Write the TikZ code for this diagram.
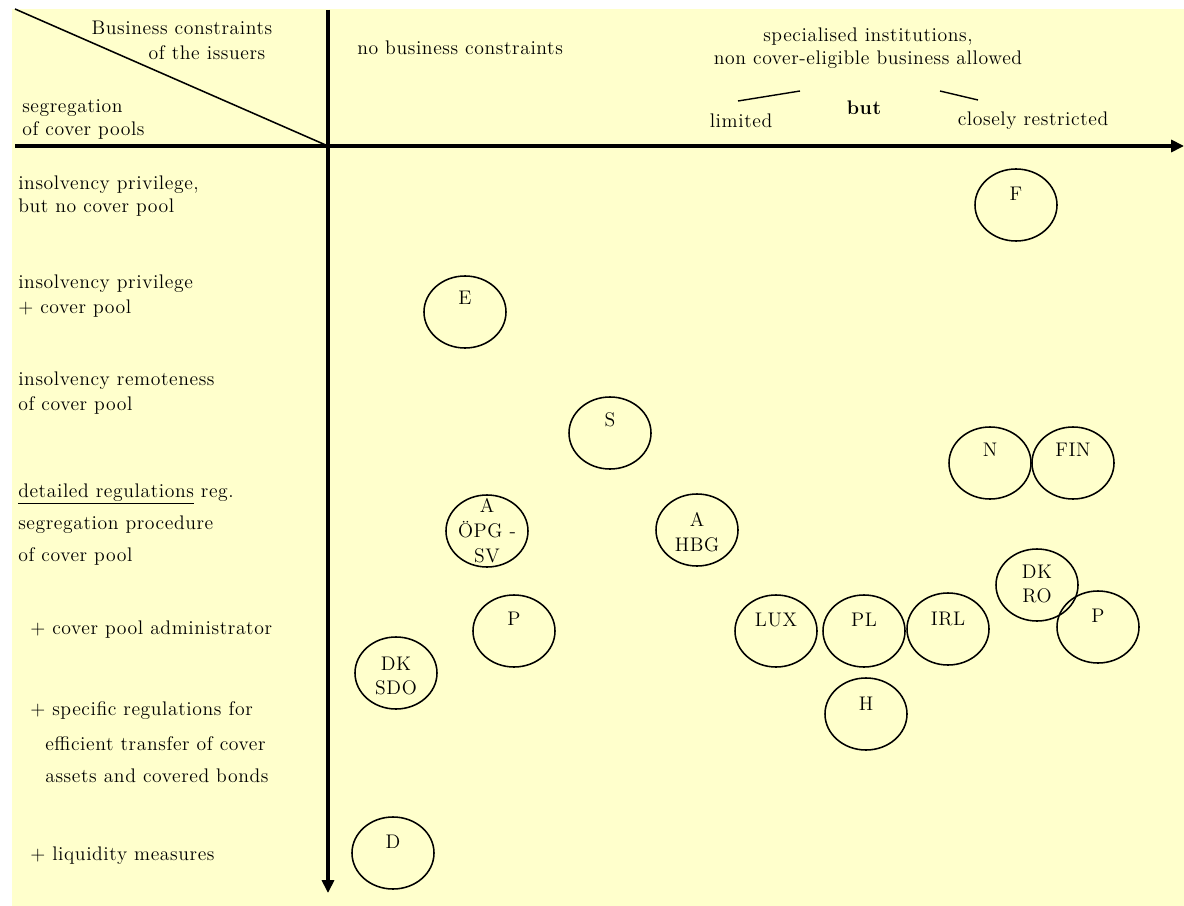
\documentclass[tikz,border=0pt]{standalone}
\usepackage{fontspec}
\setmainfont{Latin Modern Roman}[LetterSpace=3]
\usepackage{tikz}
\usetikzlibrary{shapes.geometric,arrows.meta}
\definecolor{paleyellow}{RGB}{255,255,204}
\newcommand{\lblfont}{\fontsize{14}{17.7}\selectfont}
\tikzset{
  pool/.style={draw, ellipse, line width=1.1pt, minimum width=2.05cm, minimum height=1.8cm, inner sep=0pt},
  poollbl/.style={inner sep=0pt, align=center, font=\lblfont},
  lbl/.style={inner sep=0pt, font=\lblfont},
  rowlbl/.style={lbl, anchor=west},
  axis/.style={line width=2.2pt, -{Triangle[length=0.32cm,width=0.3cm]}}
}

\begin{document}
\begin{tikzpicture}[x=0.025cm,y=-0.025cm]
    \useasboundingbox (0,0) rectangle (1184,906);
    \fill[white] (0,0) rectangle (1184,906);
    \fill[paleyellow] (12,9) rectangle (1184,906);
    % axes
    \coordinate (O) at (328,146);
    \coordinate (xs) at (15,146);
    \coordinate (xe) at (1184,146);
    \coordinate (ys) at (328,10);
    \coordinate (ye) at (328,893);
    \coordinate (corner) at (15,9);
    \draw[line width=1.1pt] (corner)--(O);
    \draw[axis] (xs)--(xe);
    \draw[axis] (ys)--(ye);
    % header
    \node[lbl] (bc1) at (182,28) {Business constraints};
    \node[lbl] (bc2) at (207,53) {of the issuers};
    \node[rowlbl] (sg1) at (22,108) {segregation};
    \node[rowlbl] (sg2) at (22,130) {of cover pools};
    \node[rowlbl] (nbc) at (357,48) {no business constraints};
    \node[lbl] (sp1) at (868,37) {specialised institutions,};
    \node[lbl] (sp2) at (868,60) {non cover-eligible business allowed};
    \node[lbl] (lim) at (741,121) {limited};
    \node[lbl,font=\lblfont\bfseries] (but) at (864,108) {but};
    \node[lbl] (clr) at (1033,121) {closely restricted};
    \coordinate (la) at (738,101);
    \coordinate (lb) at (800,91);
    \coordinate (ra) at (940,91);
    \coordinate (rb) at (978,100);
    \draw[line width=1pt] (la)--(lb);
    \draw[line width=1pt] (ra)--(rb);
    % rows
    \node[rowlbl] (r1a) at (18,185) {insolvency privilege,};
    \node[rowlbl] (r1b) at (18,208) {but no cover pool};
    \node[rowlbl] (r2a) at (18,284) {insolvency privilege};
    \node[rowlbl] (r2b) at (18,309) {+ cover pool};
    \node[rowlbl] (r3a) at (18,381) {insolvency remoteness};
    \node[rowlbl] (r3b) at (18,405) {of cover pool};
    \node[rowlbl] (r4a) at (18,494) {\underline{detailed regulations} reg.};
    \node[rowlbl] (r4b) at (18,525) {segregation procedure};
    \node[rowlbl] (r4c) at (18,556) {of cover pool};
    \node[rowlbl] (r5) at (30,630) {+ cover pool administrator};
    \node[rowlbl] (r6a) at (30,711) {+ specific regulations for};
    \node[rowlbl] (r6b) at (45,744) {efficient transfer of cover};
    \node[rowlbl] (r6c) at (45,776) {assets and covered bonds};
    \node[rowlbl] (r7) at (30,856) {+ liquidity measures};
    % cover pools by country
    \foreach \nm/\px/\py/\dy/\txt in {F/1016/205/11/F, E/465/312/14/E, S/610/433/13/S,
        N/990/463/13/N, FIN/1073/463/13/FIN, AOPG/487/531/0/{A\\ÖPG -\\SV},
        AHBG/697/530/-2/{A\\HBG}, DKRO/1037/585/1/{DK\\RO}, Pr/1098/627/11/P,
        Pl/514/631/12/P, LUX/776/631/11/LUX, PL/864/631/11/PL, IRL/948/629/10/IRL,
        DKSDO/396/673/-3/{DK\\SDO}, H/866/714/10/H, D/393/853/11/D}
    {
      \node[pool] (\nm) at (\px,\py) {};
      \node[poollbl] (\nm-t) at (\px,\py-\dy) {\txt};
    }
\end{tikzpicture}
\end{document}
